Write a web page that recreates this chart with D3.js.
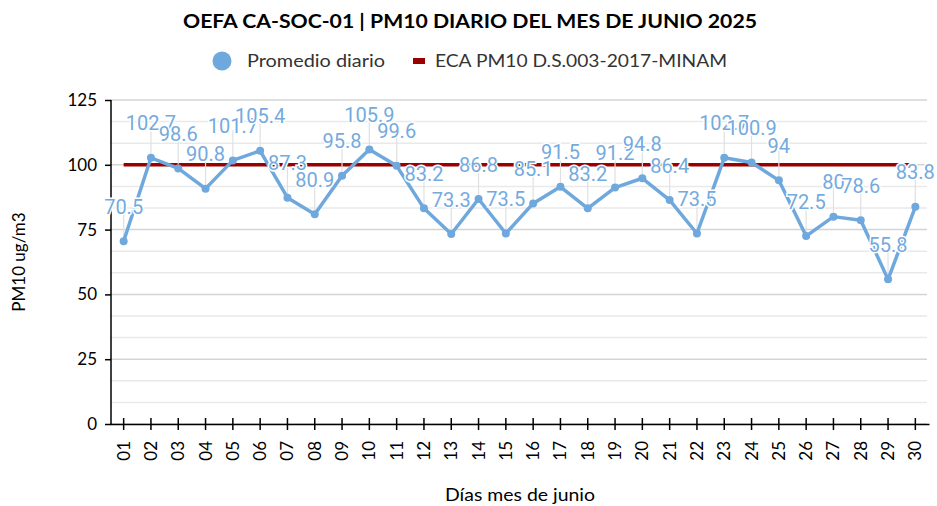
<!DOCTYPE html>
<html>
<head>
<meta charset="utf-8">
<script src="https://cdn.jsdelivr.net/npm/d3@7"></script>
<style>
  body { margin: 0; background: #fff; }
  svg { display: block; }
</style>
</head>
<body>
<div id="chart"></div>
<script>
  const days = ["01", "02", "03", "04", "05", "06", "07", "08", "09", "10", "11", "12", "13", "14", "15",
    "16", "17", "18", "19", "20", "21", "22", "23", "24", "25", "26", "27", "28", "29", "30"];
  const dailyAverage = [70.5, 102.7, 98.6, 90.8, 101.7, 105.4, 87.3, 80.9, 95.8, 105.9, 99.6, 83.2, 73.3, 86.8, 73.5,
    85.1, 91.5, 83.2, 91.2, 94.8, 86.4, 73.5, 102.7, 100.9, 94, 72.5, 80, 78.6, 55.8, 83.8];
  const ecaLimit = 100;
  const yTicks = [0, 25, 50, 75, 100, 125];

  const width = 937, height = 506;
  const margin = { top: 100, right: 8, bottom: 82, left: 110 };
  const blue = "#6fa8dc", red = "#9a0000";
  const font = "Lato, 'Open Sans', sans-serif";

  const svg = d3.select("#chart").append("svg").attr("width", width).attr("height", height);

  const x = d3.scaleBand().domain(days).range([margin.left, width - margin.right]).padding(0);
  const cx = (d) => x(d) + x.bandwidth() / 2;
  const y = d3.scaleLinear().domain([0, 125]).range([height - margin.bottom, margin.top]);

  // gridlines: major every 25, minor every 25/3
  const gridVals = d3.range(0, 16).map((i) => (i * 125) / 15);
  svg.append("g")
    .selectAll("line")
    .data(gridVals)
    .join("line")
    .attr("x1", margin.left)
    .attr("x2", width - margin.right - 2)
    .attr("y1", (d) => y(d))
    .attr("y2", (d) => y(d))
    .attr("stroke", (d, i) => (i % 3 === 0 ? "#d4d4d4" : "#e9e9e9"))
    .attr("stroke-width", 1.5);

  // y axis
  svg.append("g")
    .attr("transform", `translate(${margin.left + 1},0)`)
    .call(d3.axisLeft(y).tickValues(yTicks).tickSize(6).tickPadding(8))
    .call((g) => g.selectAll("path,line").attr("stroke", "#000").attr("stroke-width", 1.5))
    .call((g) => g.select(".domain").attr("d", `M0,${y(125)}V${y(0)}`))
    .call((g) => g.selectAll("text").attr("font-family", font).attr("font-size", 17).attr("fill", "#000"));

  // x axis
  const xAxis = svg.append("g")
    .attr("transform", `translate(0,${y(0)})`)
    .call(d3.axisBottom(x).tickSize(6).tickSizeOuter(0).tickPadding(0));
  xAxis.selectAll("path").attr("stroke", "#000").attr("stroke-width", 1.5);
  xAxis.selectAll(".tick line").attr("stroke", "#000").attr("stroke-width", 1.5).attr("y1", -6).attr("y2", 6);
  xAxis.selectAll(".tick text")
    .attr("font-family", font)
    .attr("font-size", 17)
    .attr("fill", "#000")
    .attr("text-anchor", "end")
    .attr("dy", "0.35em")
    .attr("transform", "translate(0,17) rotate(-90)")
    .attr("x", 0)
    .attr("y", 0);

  // ECA limit line
  svg.append("line")
    .attr("x1", cx(days[0]))
    .attr("x2", cx(days[days.length - 1]))
    .attr("y1", y(ecaLimit))
    .attr("y2", y(ecaLimit))
    .attr("stroke", red)
    .attr("stroke-width", 3.5);

  const points = days.map((d, i) => ({ day: d, value: dailyAverage[i] }));

  // leader lines
  svg.append("g")
    .selectAll("line")
    .data(points)
    .join("line")
    .attr("x1", (d) => cx(d.day))
    .attr("x2", (d) => cx(d.day))
    .attr("y1", (d) => y(d.value) - 4)
    .attr("y2", (d) => y(d.value) - 30)
    .attr("stroke", "#e0e0e0")
    .attr("stroke-width", 1.2);

  const line = d3.line().x((d) => cx(d.day)).y((d) => y(d.value));
  svg.append("path")
    .datum(points)
    .attr("fill", "none")
    .attr("stroke", blue)
    .attr("stroke-width", 3.5)
    .attr("stroke-linejoin", "round")
    .attr("d", line);

  svg.append("g")
    .selectAll("circle")
    .data(points)
    .join("circle")
    .attr("cx", (d) => cx(d.day))
    .attr("cy", (d) => y(d.value))
    .attr("r", 4)
    .attr("fill", blue);

  // data labels
  svg.append("g")
    .selectAll("text")
    .data(points)
    .join("text")
    .attr("x", (d) => cx(d.day))
    .attr("y", (d) => y(d.value) - 27.5)
    .attr("text-anchor", "middle")
    .attr("font-family", "Roboto, sans-serif")
    .attr("font-size", 20)
    .attr("fill", "#74aade")
    .attr("stroke", "#fff")
    .attr("stroke-width", 3)
    .attr("paint-order", "stroke")
    .text((d) => String(d.value));

  // title
  svg.append("text")
    .attr("x", 470)
    .attr("y", 28)
    .attr("text-anchor", "middle")
    .attr("font-family", font)
    .attr("font-weight", "bold")
    .attr("font-size", 19)
    .attr("fill", "#000")
    .attr("textLength", 574)
    .attr("lengthAdjust", "spacingAndGlyphs")
    .text("OEFA CA-SOC-01 | PM10 DIARIO DEL MES DE JUNIO 2025");

  // legend
  const legend = svg.append("g").attr("font-family", font).attr("font-size", 17).attr("fill", "#333");
  legend.append("circle").attr("cx", 222).attr("cy", 61).attr("r", 9.5).attr("fill", blue);
  legend.append("text").attr("x", 247).attr("y", 67).attr("textLength", 138).attr("lengthAdjust", "spacingAndGlyphs").text("Promedio diario");
  legend.append("rect").attr("x", 413).attr("y", 58).attr("width", 12).attr("height", 6).attr("fill", red);
  legend.append("text").attr("x", 435).attr("y", 67).attr("textLength", 292).attr("lengthAdjust", "spacingAndGlyphs").text("ECA PM10 D.S.003-2017-MINAM");

  // axis titles
  svg.append("text")
    .attr("transform", `translate(25,262) rotate(-90)`)
    .attr("text-anchor", "middle")
    .attr("font-family", font)
    .attr("font-size", 17)
    .attr("fill", "#000")
    .text("PM10 ug/m3");

  svg.append("text")
    .attr("x", 520)
    .attr("y", 501)
    .attr("text-anchor", "middle")
    .attr("font-family", font)
    .attr("font-size", 18)
    .attr("fill", "#000")
    .attr("textLength", 150)
    .attr("lengthAdjust", "spacingAndGlyphs")
    .text("Días mes de junio");
</script>
</body>
</html>
